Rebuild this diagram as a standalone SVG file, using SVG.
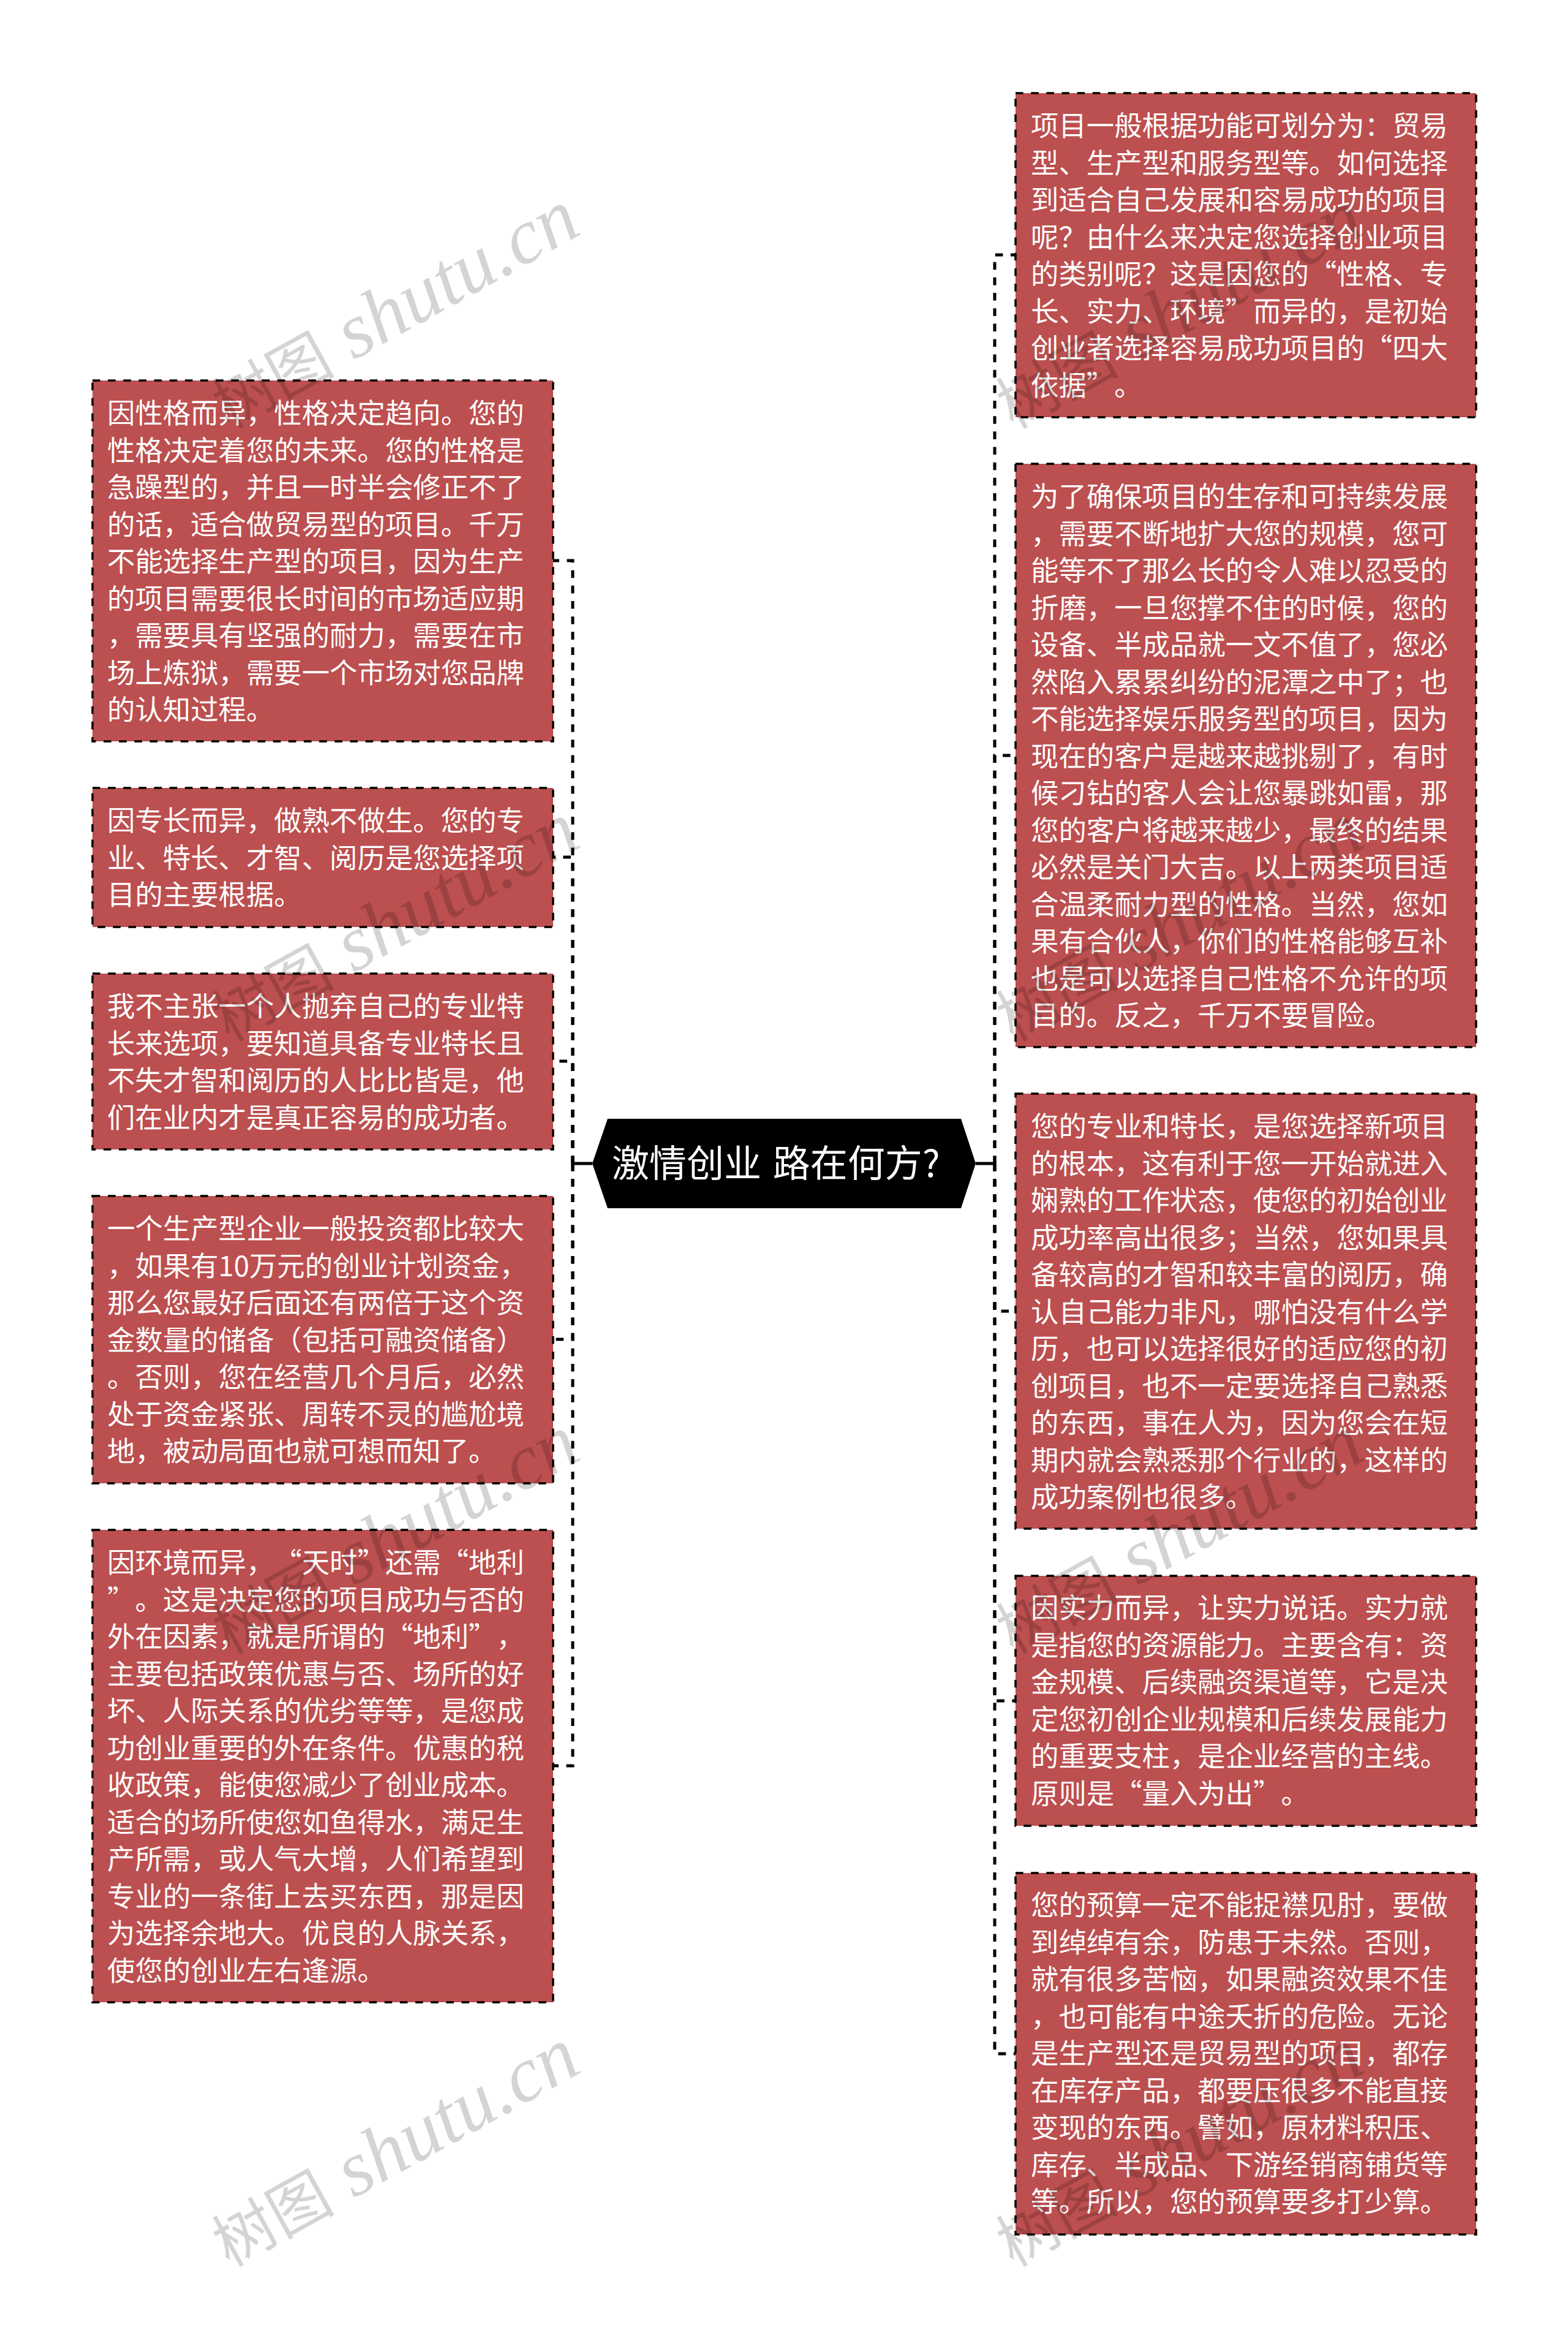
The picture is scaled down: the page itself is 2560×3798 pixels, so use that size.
<svg xmlns="http://www.w3.org/2000/svg" width="2560" height="3798" viewBox="0 0 2560 3798">
<style>
.n{fill:#bc4f4f;stroke:#000;stroke-width:3.5;stroke-dasharray:12.6 12.55}
.t{font-family:"Noto Sans CJK SC","Noto Sans",sans-serif;font-size:45.4px;fill:#fff;font-weight:400;text-spacing-trim:space-all}
.c{fill:none;stroke:#000;stroke-width:5;stroke-dasharray:12.6 12.55}
.s{fill:none;stroke:#000;stroke-width:5}
.h{font-family:"Noto Sans CJK SC","Noto Sans",sans-serif;font-size:61px;word-spacing:5px;fill:#fff;font-weight:400}
.w{font-family:"Liberation Serif","Noto Sans CJK SC",serif;font-size:128px;font-style:italic;fill:#000;fill-opacity:.17}
.w tspan{font-size:100px;font-style:normal}
</style>
<rect width="2560" height="3798" fill="#fff"/>
<g id="connectors">
<path class="c" d="M935 1899V915H903"/>
<path class="c" d="M935 1899V1399H903"/>
<path class="c" d="M935 1899V1732H903"/>
<path class="c" d="M935 1899V2186H903"/>
<path class="c" d="M935 1899V2882H903"/>
<path class="c" d="M1624 1899V416H1658"/>
<path class="c" d="M1624 1899V1233H1658"/>
<path class="c" d="M1624 1899V2140H1658"/>
<path class="c" d="M1624 1899V2776H1658"/>
<path class="c" d="M1624 1899V3352H1658"/>
<path class="s" d="M967 1899H935M1593 1899H1624"/>
</g>
<g id="root"><path d="M992 1826H1569L1593 1899L1569 1972H992L967 1899Z" fill="#000"/><text class="h" x="999" y="1921">激情创业 路在何方?</text></g>
<g id="left1"><rect class="n" x="151" y="621" width="752" height="589"/><text class="t" y="691"><tspan x="175">因性格而异，性格决定趋向。您的</tspan><tspan x="175" dy="60.5">性格决定着您的未来。您的性格是</tspan><tspan x="175" dy="60.5">急躁型的，并且一时半会修正不了</tspan><tspan x="175" dy="60.5">的话，适合做贸易型的项目。千万</tspan><tspan x="175" dy="60.5">不能选择生产型的项目，因为生产</tspan><tspan x="175" dy="60.5">的项目需要很长时间的市场适应期</tspan><tspan x="175" dy="60.5">，需要具有坚强的耐力，需要在市</tspan><tspan x="175" dy="60.5">场上炼狱，需要一个市场对您品牌</tspan><tspan x="175" dy="60.5">的认知过程。</tspan></text></g>
<g id="left2"><rect class="n" x="151" y="1286" width="752" height="227"/><text class="t" y="1356"><tspan x="175">因专长而异，做熟不做生。您的专</tspan><tspan x="175" dy="60.5">业、特长、才智、阅历是您选择项</tspan><tspan x="175" dy="60.5">目的主要根据。</tspan></text></g>
<g id="left3"><rect class="n" x="151" y="1589" width="752" height="287"/><text class="t" y="1659"><tspan x="175">我不主张一个人抛弃自己的专业特</tspan><tspan x="175" dy="60.5">长来选项，要知道具备专业特长且</tspan><tspan x="175" dy="60.5">不失才智和阅历的人比比皆是，他</tspan><tspan x="175" dy="60.5">们在业内才是真正容易的成功者。</tspan></text></g>
<g id="left4"><rect class="n" x="151" y="1952" width="752" height="469"/><text class="t" y="2022"><tspan x="175">一个生产型企业一般投资都比较大</tspan><tspan x="175" dy="60.5">，如果有10万元的创业计划资金，</tspan><tspan x="175" dy="60.5">那么您最好后面还有两倍于这个资</tspan><tspan x="175" dy="60.5">金数量的储备（包括可融资储备）</tspan><tspan x="175" dy="60.5">。否则，您在经营几个月后，必然</tspan><tspan x="175" dy="60.5">处于资金紧张、周转不灵的尴尬境</tspan><tspan x="175" dy="60.5">地，被动局面也就可想而知了。</tspan></text></g>
<g id="left5"><rect class="n" x="151" y="2497" width="752" height="771"/><text class="t" y="2567"><tspan x="175">因环境而异，“天时”还需“地利</tspan><tspan x="175" dy="60.5">”。这是决定您的项目成功与否的</tspan><tspan x="175" dy="60.5">外在因素，就是所谓的“地利”，</tspan><tspan x="175" dy="60.5">主要包括政策优惠与否、场所的好</tspan><tspan x="175" dy="60.5">坏、人际关系的优劣等等，是您成</tspan><tspan x="175" dy="60.5">功创业重要的外在条件。优惠的税</tspan><tspan x="175" dy="60.5">收政策，能使您减少了创业成本。</tspan><tspan x="175" dy="60.5">适合的场所使您如鱼得水，满足生</tspan><tspan x="175" dy="60.5">产所需，或人气大增，人们希望到</tspan><tspan x="175" dy="60.5">专业的一条街上去买东西，那是因</tspan><tspan x="175" dy="60.5">为选择余地大。优良的人脉关系，</tspan><tspan x="175" dy="60.5">使您的创业左右逢源。</tspan></text></g>
<g id="right1"><rect class="n" x="1658" y="152" width="752" height="529"/><text class="t" y="222"><tspan x="1683">项目一般根据功能可划分为：贸易</tspan><tspan x="1683" dy="60.5">型、生产型和服务型等。如何选择</tspan><tspan x="1683" dy="60.5">到适合自己发展和容易成功的项目</tspan><tspan x="1683" dy="60.5">呢？由什么来决定您选择创业项目</tspan><tspan x="1683" dy="60.5">的类别呢？这是因您的“性格、专</tspan><tspan x="1683" dy="60.5">长、实力、环境”而异的，是初始</tspan><tspan x="1683" dy="60.5">创业者选择容易成功项目的“四大</tspan><tspan x="1683" dy="60.5">依据”。</tspan></text></g>
<g id="right2"><rect class="n" x="1658" y="757" width="752" height="952"/><text class="t" y="827"><tspan x="1683">为了确保项目的生存和可持续发展</tspan><tspan x="1683" dy="60.5">，需要不断地扩大您的规模，您可</tspan><tspan x="1683" dy="60.5">能等不了那么长的令人难以忍受的</tspan><tspan x="1683" dy="60.5">折磨，一旦您撑不住的时候，您的</tspan><tspan x="1683" dy="60.5">设备、半成品就一文不值了，您必</tspan><tspan x="1683" dy="60.5">然陷入累累纠纷的泥潭之中了；也</tspan><tspan x="1683" dy="60.5">不能选择娱乐服务型的项目，因为</tspan><tspan x="1683" dy="60.5">现在的客户是越来越挑剔了，有时</tspan><tspan x="1683" dy="60.5">候刁钻的客人会让您暴跳如雷，那</tspan><tspan x="1683" dy="60.5">您的客户将越来越少，最终的结果</tspan><tspan x="1683" dy="60.5">必然是关门大吉。以上两类项目适</tspan><tspan x="1683" dy="60.5">合温柔耐力型的性格。当然，您如</tspan><tspan x="1683" dy="60.5">果有合伙人，你们的性格能够互补</tspan><tspan x="1683" dy="60.5">也是可以选择自己性格不允许的项</tspan><tspan x="1683" dy="60.5">目的。反之，千万不要冒险。</tspan></text></g>
<g id="right3"><rect class="n" x="1658" y="1785" width="752" height="710"/><text class="t" y="1855"><tspan x="1683">您的专业和特长，是您选择新项目</tspan><tspan x="1683" dy="60.5">的根本，这有利于您一开始就进入</tspan><tspan x="1683" dy="60.5">娴熟的工作状态，使您的初始创业</tspan><tspan x="1683" dy="60.5">成功率高出很多；当然，您如果具</tspan><tspan x="1683" dy="60.5">备较高的才智和较丰富的阅历，确</tspan><tspan x="1683" dy="60.5">认自己能力非凡，哪怕没有什么学</tspan><tspan x="1683" dy="60.5">历，也可以选择很好的适应您的初</tspan><tspan x="1683" dy="60.5">创项目，也不一定要选择自己熟悉</tspan><tspan x="1683" dy="60.5">的东西，事在人为，因为您会在短</tspan><tspan x="1683" dy="60.5">期内就会熟悉那个行业的，这样的</tspan><tspan x="1683" dy="60.5">成功案例也很多。</tspan></text></g>
<g id="right4"><rect class="n" x="1658" y="2572" width="752" height="408"/><text class="t" y="2641"><tspan x="1683">因实力而异，让实力说话。实力就</tspan><tspan x="1683" dy="60.5">是指您的资源能力。主要含有：资</tspan><tspan x="1683" dy="60.5">金规模、后续融资渠道等，它是决</tspan><tspan x="1683" dy="60.5">定您初创企业规模和后续发展能力</tspan><tspan x="1683" dy="60.5">的重要支柱，是企业经营的主线。</tspan><tspan x="1683" dy="60.5">原则是“量入为出”。</tspan></text></g>
<g id="right5"><rect class="n" x="1658" y="3057" width="752" height="590"/><text class="t" y="3126"><tspan x="1683">您的预算一定不能捉襟见肘，要做</tspan><tspan x="1683" dy="60.5">到绰绰有余，防患于未然。否则，</tspan><tspan x="1683" dy="60.5">就有很多苦恼，如果融资效果不佳</tspan><tspan x="1683" dy="60.5">，也可能有中途夭折的危险。无论</tspan><tspan x="1683" dy="60.5">是生产型还是贸易型的项目，都存</tspan><tspan x="1683" dy="60.5">在库存产品，都要压很多不能直接</tspan><tspan x="1683" dy="60.5">变现的东西。譬如，原材料积压、</tspan><tspan x="1683" dy="60.5">库存、半成品、下游经销商铺货等</tspan><tspan x="1683" dy="60.5">等。所以，您的预算要多打少算。</tspan></text></g>
<g id="watermarks">
<defs><text id="wm" class="w" transform="rotate(-29)" x="0" y="0"><tspan>树图</tspan> shutu.cn</text></defs>
<use href="#wm" transform="translate(374 701)"/>
<use href="#wm" transform="translate(374 1701)"/>
<use href="#wm" transform="translate(374 2701)"/>
<use href="#wm" transform="translate(374 3701)"/>
<use href="#wm" transform="translate(1654 701)"/>
<use href="#wm" transform="translate(1654 1701)"/>
<use href="#wm" transform="translate(1654 2701)"/>
<use href="#wm" transform="translate(1654 3701)"/>
</g>
</svg>
